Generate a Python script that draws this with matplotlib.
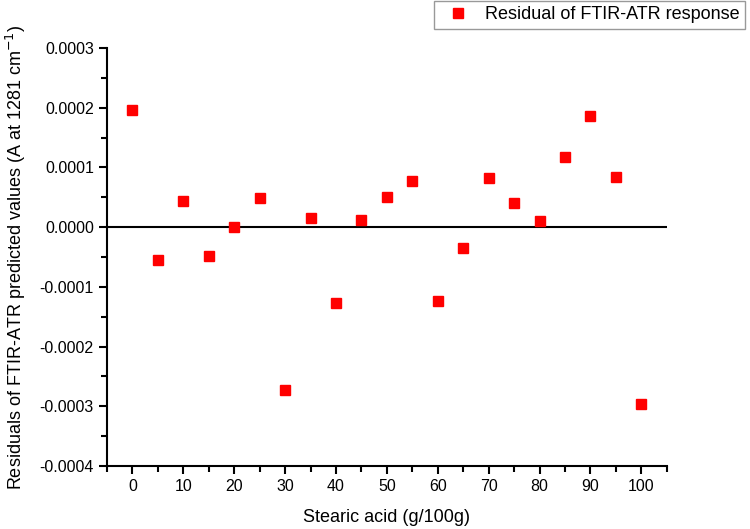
import matplotlib.pyplot as plt
from matplotlib.ticker import MultipleLocator, FormatStrFormatter

plt.rcParams['font.family'] = ['Liberation Sans', 'DejaVu Sans']
plt.rcParams['font.size'] = 11.5

# data: stearic acid content and residuals
stearic = [0, 5, 10, 15, 20, 25, 30, 35, 40, 45, 50,
           55, 60, 65, 70, 75, 80, 85, 90, 95, 100]
residual = [0.000196, -0.000055, 0.000043, -0.000049, 0.0, 0.000048,
            -0.000273, 0.0000146, -0.000127, 0.0000112, 0.0000497,
            0.0000776, -0.000123, -0.0000357, 0.0000826, 0.0000407,
            0.0000095, 0.000117, 0.000186, 0.0000838, -0.000297]

fig = plt.figure(figsize=(7.5, 5.29), dpi=100)
ax = fig.add_axes([0.1427, 0.1191, 0.889 - 0.1427, 0.9093 - 0.1191])

ax.axhline(0, color='black', linewidth=1.5, zorder=1)
ax.plot(stearic, residual, linestyle='none', marker='s', markersize=6.5,
        color='#ff0000', markeredgecolor='#ff0000', zorder=3,
        label='Residual of FTIR-ATR response')

ax.set_xlim(-5, 105)
ax.set_ylim(-0.0004, 0.0003)
ax.xaxis.set_major_locator(MultipleLocator(10))
ax.xaxis.set_minor_locator(MultipleLocator(5))
ax.yaxis.set_major_locator(MultipleLocator(0.0001))
ax.yaxis.set_minor_locator(MultipleLocator(0.00005))
ax.yaxis.set_major_formatter(FormatStrFormatter('%.4f'))

for side in ['top', 'right']:
    ax.spines[side].set_visible(False)
for side in ['left', 'bottom']:
    ax.spines[side].set_linewidth(1.5)

ax.tick_params(which='major', direction='out', length=6, width=1.5, labelsize=11.5)
ax.tick_params(which='minor', direction='out', length=4, width=1.5)

ax.set_xlabel('Stearic acid (g/100g)', fontsize=13, labelpad=11)
ax.set_ylabel('Residuals of FTIR-ATR predicted values (A at 1281 cm$^{-1}$)',
              fontsize=13, labelpad=8)

leg = fig.legend(loc='upper right', bbox_to_anchor=(745 / 750, 1 - 1 / 529),
                 borderaxespad=0, fontsize=13, fancybox=False,
                 edgecolor='#808080', handletextpad=0.5, borderpad=0.3,
                 handlelength=2.0)
leg.get_frame().set_linewidth(1.0)

fig.savefig('out.png', dpi=100)
